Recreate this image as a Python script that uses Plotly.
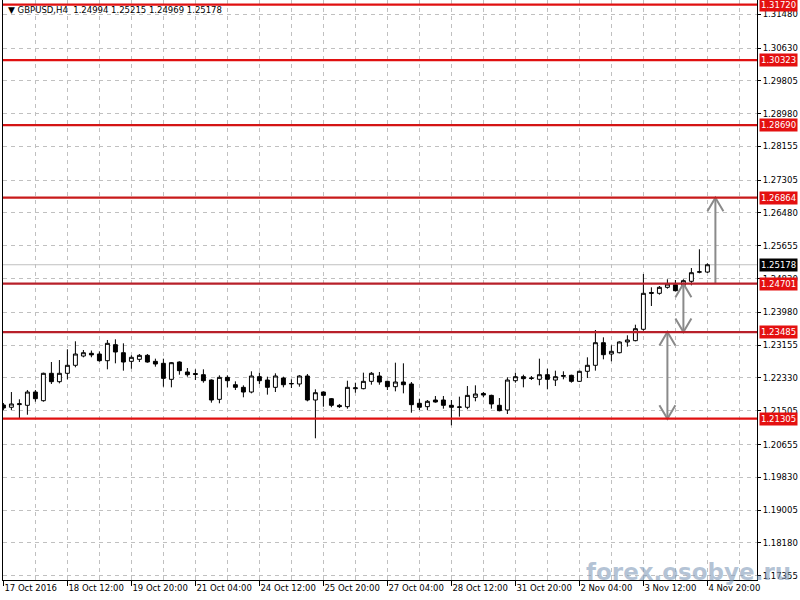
import plotly.graph_objects as go

# ---------------- data ----------------
symbol = "GBPUSD,H4"
bars = list(range(89))
opens = [1.21650, 1.21592, 1.21660, 1.21642, 1.21976, 1.21758, 1.22447, 1.22236, 1.22447, 1.22648,
         1.22882, 1.22950, 1.22932, 1.22764, 1.23167, 1.22965, 1.22748, 1.22798, 1.22899, 1.22748,
         1.22698, 1.22295, 1.22731, 1.22480, 1.22440, 1.22412, 1.22278, 1.21792, 1.22345, 1.22160,
         1.22094, 1.21976, 1.22362, 1.22278, 1.22094, 1.22328, 1.22180, 1.22178, 1.22379, 1.21775,
         1.21976, 1.21808, 1.21640, 1.21608, 1.22060, 1.22060, 1.22245, 1.22379, 1.22245, 1.22110,
         1.22228, 1.22178, 1.21692, 1.21608, 1.21775, 1.21775, 1.21642, 1.21590, 1.21592, 1.21842,
         1.21940, 1.21892, 1.21642, 1.21524, 1.22261, 1.22362, 1.22330, 1.22296, 1.22412, 1.22278,
         1.22370, 1.22396, 1.22245, 1.22497, 1.22648, 1.23217, 1.22932, 1.22965, 1.23235, 1.23268,
         1.23554, 1.24480, 1.24459, 1.24610, 1.24676, 1.24660, 1.24761, 1.24990, 1.24994]
highs = [1.21700, 1.21976, 1.21793, 1.22027, 1.22027, 1.22463, 1.22731, 1.22781, 1.23051, 1.23252,
         1.23033, 1.23020, 1.23000, 1.23285, 1.23302, 1.23201, 1.22899, 1.22932, 1.22932, 1.22815,
         1.22815, 1.22731, 1.22748, 1.22580, 1.22547, 1.22547, 1.22295, 1.22396, 1.22396, 1.22245,
         1.22144, 1.22497, 1.22463, 1.22362, 1.22447, 1.22362, 1.22295, 1.22400, 1.22429, 1.22044,
         1.21993, 1.21825, 1.21675, 1.22261, 1.22211, 1.22463, 1.22480, 1.22480, 1.22261, 1.22714,
         1.22698, 1.22228, 1.21808, 1.21775, 1.21876, 1.21876, 1.21775, 1.21859, 1.22127, 1.22144,
         1.21976, 1.21909, 1.21825, 1.22345, 1.22463, 1.22412, 1.22379, 1.22815, 1.22563, 1.22513,
         1.22497, 1.22412, 1.22513, 1.22849, 1.23536, 1.23352, 1.23151, 1.23252, 1.23403, 1.23670,
         1.24945, 1.24610, 1.24643, 1.24812, 1.24794, 1.24812, 1.25096, 1.25567, 1.25215]
lows = [1.21520, 1.21524, 1.21322, 1.21405, 1.21733, 1.21733, 1.22178, 1.22194, 1.22295, 1.22598,
        1.22849, 1.22850, 1.22739, 1.22547, 1.22698, 1.22513, 1.22563, 1.22731, 1.22714, 1.22614,
        1.22110, 1.22094, 1.22412, 1.22362, 1.22278, 1.22211, 1.21708, 1.21692, 1.22094, 1.22027,
        1.21843, 1.21943, 1.22178, 1.21910, 1.21976, 1.22094, 1.22077, 1.22110, 1.21742, 1.20812,
        1.21607, 1.21592, 1.21574, 1.21557, 1.21959, 1.22044, 1.22160, 1.22160, 1.22027, 1.21993,
        1.21943, 1.21456, 1.21524, 1.21524, 1.21708, 1.21557, 1.21138, 1.21356, 1.21541, 1.21742,
        1.21843, 1.21557, 1.21490, 1.21423, 1.22211, 1.22094, 1.22278, 1.22145, 1.22044, 1.22127,
        1.22296, 1.22211, 1.22228, 1.22329, 1.22513, 1.22798, 1.22748, 1.22949, 1.23117, 1.23252,
        1.23519, 1.24140, 1.24425, 1.24576, 1.24509, 1.24560, 1.24660, 1.24962, 1.24969]
closes = [1.21574, 1.21675, 1.21680, 1.21976, 1.21808, 1.22447, 1.22236, 1.22447, 1.22648, 1.22932,
          1.22965, 1.22910, 1.22764, 1.23201, 1.22983, 1.22731, 1.22849, 1.22899, 1.22731, 1.22681,
          1.22320, 1.22714, 1.22513, 1.22412, 1.22420, 1.22261, 1.21775, 1.22345, 1.22261, 1.22094,
          1.21976, 1.22379, 1.22261, 1.22094, 1.22379, 1.22160, 1.22190, 1.22379, 1.21775, 1.21959,
          1.21892, 1.21642, 1.21608, 1.22094, 1.22080, 1.22245, 1.22447, 1.22228, 1.22110, 1.22228,
          1.22160, 1.21658, 1.21592, 1.21742, 1.21725, 1.21642, 1.21592, 1.21600, 1.21892, 1.21926,
          1.21900, 1.21675, 1.21507, 1.22278, 1.22362, 1.22312, 1.22320, 1.22412, 1.22296, 1.22362,
          1.22390, 1.22245, 1.22497, 1.22648, 1.23217, 1.22915, 1.23000, 1.23235, 1.23285, 1.23569,
          1.24459, 1.24460, 1.24610, 1.24693, 1.24525, 1.24777, 1.24978, 1.25000, 1.25178]

tick_bars = [0, 8, 16, 24, 32, 40, 48, 56, 64, 72, 80, 88]
tick_labels = ["17 Oct 2016", "18 Oct 12:00", "19 Oct 20:00", "21 Oct 04:00", "24 Oct 12:00",
               "25 Oct 20:00", "27 Oct 04:00", "28 Oct 12:00", "31 Oct 20:00", "2 Nov 04:00",
               "3 Nov 12:00", "4 Nov 20:00"]
price_ticks = [1.31480, 1.30630, 1.29805, 1.28980, 1.28155, 1.27305, 1.26480, 1.25655, 1.24830,
               1.23980, 1.23155, 1.22330, 1.21505, 1.20655, 1.19830, 1.19005, 1.18180, 1.17355]
levels = [1.31720, 1.30323, 1.28690, 1.26864, 1.24701, 1.23485, 1.21305]
level_colors = ["#e01010", "#e01010", "#d41414", "#c81a1a", "#b8202a", "#b8202a", "#e01010"]
bid_price = closes[-1]

arrow_bar = [83, 85, 89]
arrow_from = [1.21305, 1.23485, 1.24701]
arrow_to = [1.23485, 1.24701, 1.26864]
arrow_both = [True, True, False]

# ---------------- figure ----------------
FONT = "DejaVu Sans"
fig = go.Figure()

fig.add_trace(go.Candlestick(
    x=bars, open=opens, high=highs, low=lows, close=closes,
    increasing=dict(line=dict(color="black", width=1), fillcolor="white"),
    decreasing=dict(line=dict(color="black", width=1), fillcolor="black"),
    whiskerwidth=0, hoverinfo="skip", showlegend=False,
))

shapes = []
for lv, col in zip(levels, level_colors):
    shapes.append(dict(type="line", xref="paper", yref="y", x0=0, x1=1, y0=lv, y1=lv,
                       line=dict(color=col, width=2.2), layer="above"))
shapes.append(dict(type="line", xref="paper", yref="y", x0=0, x1=1, y0=bid_price, y1=bid_price,
                   line=dict(color="#c0c0c0", width=1), layer="below"))

head_dx = 1.0
head_dy = 0.0034
for b, y0, y1, both in zip(arrow_bar, arrow_from, arrow_to, arrow_both):
    xs = [b, b, None, b - head_dx, b, b + head_dx]
    ys = [y0, y1, None, y1 - head_dy, y1, y1 - head_dy]
    if both:
        xs += [None, b - head_dx, b, b + head_dx]
        ys += [None, y0 + head_dy, y0, y0 + head_dy]
    fig.add_trace(go.Scatter(x=xs, y=ys, mode="lines", line=dict(color="#8a8a8a", width=2),
                             hoverinfo="skip", showlegend=False))

annotations = []
for lv, col in zip(levels, level_colors):
    annotations.append(dict(x=1, xref="paper", y=lv, yref="y", xanchor="left", yanchor="middle",
                            xshift=2, text=f"{lv:.5f}", showarrow=False, bgcolor="#e41010",
                            borderpad=1, font=dict(family=FONT, size=8.5, color="white")))
annotations.append(dict(x=1, xref="paper", y=bid_price, yref="y", xanchor="left", yanchor="middle",
                        xshift=2, text=f"{bid_price:.5f}", showarrow=False, bgcolor="black",
                        borderpad=1, font=dict(family=FONT, size=8.5, color="white")))
annotations.append(dict(x=0, xref="paper", y=1, yref="paper", xanchor="left", yanchor="top",
                        xshift=3, yshift=-3, showarrow=False,
                        text=f"<span style='font-size:9px'>▼</span> {symbol}  {opens[-1]:.5f} {highs[-1]:.5f} {lows[-1]:.5f} {closes[-1]:.5f}",
                        font=dict(family=FONT, size=8.5, color="black")))
annotations.append(dict(x=0.9085, xref="paper", y=0.0138, yref="paper", xanchor="center",
                        yanchor="middle", showarrow=False, text="<b>forex.osobye.ru</b>",
                        font=dict(family=FONT, size=23, color="rgba(130,155,185,0.6)")))

fig.update_layout(
    width=800, height=600,
    margin=dict(l=3, r=43, t=0, b=20, autoexpand=False),
    paper_bgcolor="white", plot_bgcolor="white",
    shapes=shapes, annotations=annotations,
    font=dict(family=FONT, size=8.5, color="black"),
    showlegend=False,
    xaxis=dict(
        range=[-0.05, 94.2], rangeslider=dict(visible=False), automargin=False,
        tickvals=tick_bars, ticktext=tick_labels, ticks="outside", ticklen=5, tickcolor="black",
        ticklabelposition="outside right", tickangle=0,
        showgrid=True, gridcolor="#c0c0c0", griddash="4px,4px", gridwidth=1,
        minor=dict(tick0=0, dtick=4, showgrid=True, gridcolor="#c0c0c0", griddash="4px,4px", ticks=""),
        showline=True, linecolor="black", linewidth=1, zeroline=False,
        tickfont=dict(family=FONT, size=8.5, color="black"),
    ),
    yaxis=dict(
        range=[1.17247, 1.31838], side="right", automargin=False,
        tickvals=price_ticks, ticktext=[f"{v:.5f}" for v in price_ticks],
        ticks="outside", ticklen=3, tickcolor="black",
        showgrid=True, gridcolor="#c0c0c0", griddash="4px,4px", gridwidth=1,
        showline=True, linecolor="black", linewidth=1, mirror=True, zeroline=False,
        tickfont=dict(family=FONT, size=8.5, color="black"),
    ),
)

fig.write_html("out.html", config={"displayModeBar": False},
               post_script="document.body.style.margin='0';document.body.style.overflow='hidden';")
